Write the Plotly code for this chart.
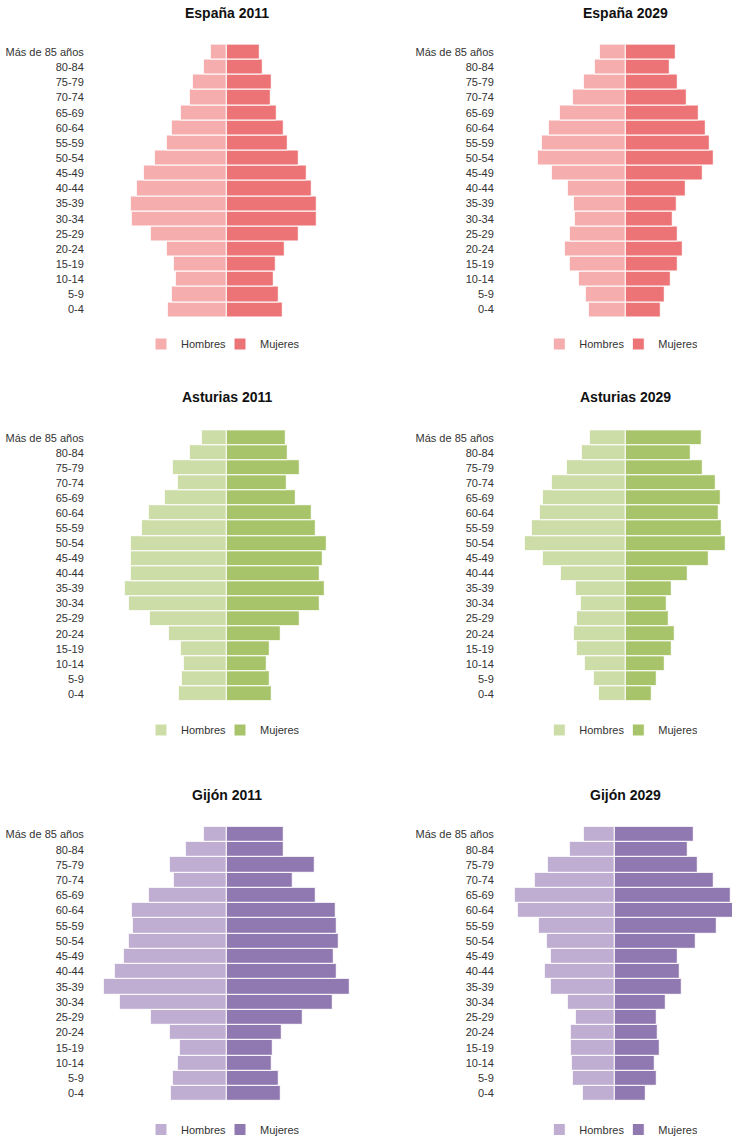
import plotly.graph_objects as go

W, H = 732, 1136

# ---------------- data (thousands of people) ----------------
age_groups = ["0-4", "5-9", "10-14", "15-19", "20-24", "25-29", "30-34", "35-39",
              "40-44", "45-49", "50-54", "55-59", "60-64", "65-69", "70-74",
              "75-79", "80-84", "Más de 85 años"]

espana_2011_hombres = [1262, 1185, 1085, 1134, 1283, 1611, 2036, 2057, 1909, 1760, 1532, 1283, 1164, 985, 787, 738, 489, 340]
espana_2011_mujeres = [1185, 1106, 1006, 1036, 1234, 1532, 1900, 1900, 1802, 1702, 1532, 1304, 1206, 1057, 930, 957, 760, 702]

espana_2029_hombres = [783, 855, 1004, 1181, 1302, 1181, 1081, 1102, 1230, 1579, 1877, 1777, 1628, 1400, 1123, 883, 655, 549]
espana_2029_mujeres = [755, 834, 962, 1111, 1209, 1111, 1004, 1089, 1281, 1634, 1883, 1783, 1706, 1557, 1302, 1111, 940, 1060]

asturias_2011_hombres = [19.1, 18.1, 17.2, 18.5, 23.2, 30.8, 39.2, 40.7, 38.3, 38.3, 38.3, 34.0, 31.2, 24.7, 19.5, 21.5, 14.8, 10.1]
asturias_2011_mujeres = [18.0, 17.1, 16.1, 17.1, 21.7, 29.2, 37.2, 39.1, 37.2, 38.5, 40.0, 35.7, 34.0, 27.7, 24.0, 29.2, 24.5, 23.6]

asturias_2029_hombres = [10.7, 12.9, 16.3, 19.5, 20.9, 19.5, 18.1, 19.9, 26.0, 33.1, 40.3, 37.5, 34.5, 33.1, 29.5, 23.7, 17.5, 14.3]
asturias_2029_mujeres = [10.5, 12.5, 15.7, 18.5, 19.5, 17.2, 16.3, 18.5, 24.7, 33.1, 40.1, 38.3, 37.3, 37.9, 35.9, 30.8, 26.1, 30.3]

gijon_2011_hombres = [5.36, 5.14, 4.73, 4.50, 5.46, 7.27, 10.22, 11.71, 10.67, 9.81, 9.36, 8.95, 9.05, 7.46, 5.05, 5.46, 3.88, 2.19]
gijon_2011_mujeres = [5.11, 4.89, 4.29, 4.38, 5.21, 7.24, 10.07, 11.74, 10.50, 10.19, 10.60, 10.50, 10.38, 8.48, 6.29, 8.38, 5.43, 5.43]

gijon_2029_hombres = [3.10, 4.05, 4.14, 4.27, 4.27, 3.73, 4.50, 6.17, 6.69, 6.17, 6.50, 7.26, 9.26, 9.54, 7.64, 6.40, 4.36, 3.00]
gijon_2029_mujeres = [2.93, 3.98, 3.76, 4.21, 4.08, 3.98, 4.84, 6.30, 6.11, 5.98, 7.70, 9.67, 11.30, 10.97, 9.38, 7.89, 6.93, 7.48]

titles = ["España 2011", "España 2029", "Asturias 2011", "Asturias 2029", "Gijón 2011", "Gijón 2029"]
series_names = ["Hombres", "Mujeres"]

# ---------------- styles / layout parameters ----------------
colors = {
    "espana": ("#F5ADAD", "#EC7476"),
    "asturias": ("#CDDDA8", "#A8C46A"),
    "gijon": ("#BFAED1", "#9079B0"),
}

FONT = "Liberation Sans, Arial, sans-serif"

# (title, men, women, colour key, column, row, zero-line px, px per unit)
panels = [
    (titles[0], espana_2011_hombres, espana_2011_mujeres, "espana", 0, 0, 227.0, 0.047),
    (titles[1], espana_2029_hombres, espana_2029_mujeres, "espana", 1, 0, 625.7, 0.047),
    (titles[2], asturias_2011_hombres, asturias_2011_mujeres, "asturias", 0, 1, 227.0, 2.5),
    (titles[3], asturias_2029_hombres, asturias_2029_mujeres, "asturias", 1, 1, 625.7, 2.5),
    (titles[4], gijon_2011_hombres, gijon_2011_mujeres, "gijon", 0, 2, 227.0, 10.5),
    (titles[5], gijon_2029_hombres, gijon_2029_mujeres, "gijon", 1, 2, 615.2, 10.5),
]

col_domain_px = [(84.8, 362.0), (494.8, 732.0)]
col_center_px = [227.0, 625.3]
row_domain_px = [(44.5, 317.2), (430.2, 701.5), (826.8, 1101.2)]
row_title_px = [13.5, 397.0, 795.0]
row_legend_px = [344.0, 730.0, 1129.5]
LEGEND_OFFSET = 86.0  # legend left edge relative to column centre

fig = go.Figure()
layout = dict(
    width=W, height=H,
    margin=dict(l=0, r=0, t=0, b=0, autoexpand=False),
    paper_bgcolor="white", plot_bgcolor="white",
    barmode="relative", bargap=0,
    font=dict(family=FONT, size=11, color="#333333"),
    annotations=[],
)

for i, (title, men, women, ck, col, row, c_px, scale) in enumerate(panels, start=1):
    sfx = "" if i == 1 else str(i)
    leg = "legend" + sfx
    c_men, c_women = colors[ck]
    fig.add_trace(go.Bar(
        y=age_groups, x=[-v for v in men], orientation="h", name=series_names[0],
        marker=dict(color=c_men, line=dict(color="white", width=1)),
        customdata=men, hovertemplate="%{y}: %{customdata}<extra>Hombres</extra>",
        xaxis="x" + sfx, yaxis="y" + sfx, legend=leg,
    ))
    fig.add_trace(go.Bar(
        y=age_groups, x=women, orientation="h", name=series_names[1],
        marker=dict(color=c_women, line=dict(color="white", width=1)),
        hovertemplate="%{y}: %{x}<extra>Mujeres</extra>",
        xaxis="x" + sfx, yaxis="y" + sfx, legend=leg,
    ))
    dl, dr = col_domain_px[col]
    yt, yb = row_domain_px[row]
    layout["xaxis" + sfx] = dict(
        domain=[dl / W, dr / W], range=[-(c_px - dl) / scale, (dr - c_px) / scale],
        visible=False, showgrid=False, zeroline=False, fixedrange=True,
        anchor="y" + sfx,
    )
    layout["yaxis" + sfx] = dict(
        domain=[1 - yb / H, 1 - yt / H], type="category",
        categoryorder="array", categoryarray=age_groups,
        showgrid=False, zeroline=False, showline=False, ticks="",
        tickfont=dict(family=FONT, size=11, color="#333333"),
        anchor="x" + sfx, fixedrange=True,
    )
    layout[leg] = dict(
        orientation="h", x=(col_center_px[col] - LEGEND_OFFSET) / W, xanchor="left",
        y=1 - row_legend_px[row] / H, yanchor="middle",
        font=dict(family=FONT, size=11, color="#333333"),
        bgcolor="rgba(0,0,0,0)", itemwidth=30, entrywidth=34,
        traceorder="normal",
    )
    layout["annotations"].append(dict(
        text="<b>" + title + "</b>", xref="paper", yref="paper",
        x=col_center_px[col] / W, y=1 - row_title_px[row] / H,
        xanchor="center", yanchor="middle", showarrow=False,
        font=dict(family=FONT, size=14, color="#111111"),
    ))

fig.update_layout(**layout)
fig.write_html(
    "out.html",
    config={"displayModeBar": False},
    post_script="document.body.style.margin='0px';document.body.style.padding='0px';",
)
